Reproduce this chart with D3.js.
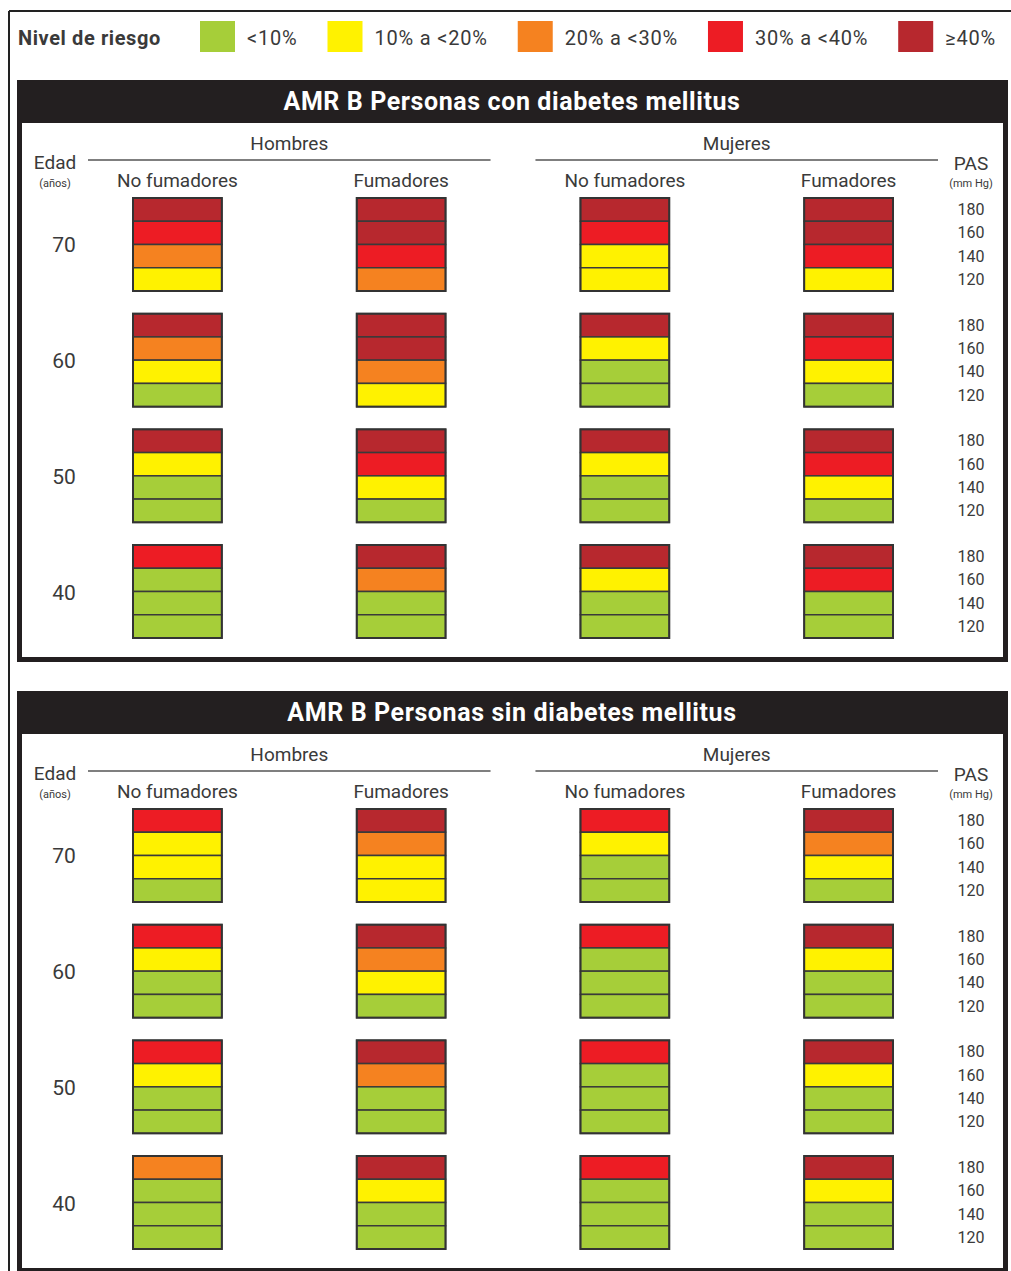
<!DOCTYPE html>
<html>
<head>
<meta charset="utf-8">
<script src="https://cdn.jsdelivr.net/npm/d3@7"></script>
<style>
  body { margin: 0; background: #fff; }
  svg { display: block; }
  text { font-family: Roboto, "Noto Sans", sans-serif; fill: #3a3a3a; }
</style>
</head>
<body>
<svg width="1011" height="1271"></svg>
<script>
/* Tabla de riesgo AMR B: datos */
const levelLabels = ['<10%', '10% a <20%', '20% a <30%', '30% a <40%', '≥40%'];
const ages = [70, 60, 50, 40];
const pasValues = [180, 160, 140, 120];
const sexes = ['Hombres', 'Mujeres'];
const smokers = ['No fumadores', 'Fumadores'];
const panelTitles = ['AMR B Personas con diabetes mellitus', 'AMR B Personas sin diabetes mellitus'];

// nivel de riesgo (0 = <10% ... 4 = >=40%) por edad, columna (H-NF, H-F, M-NF, M-F), PAS 180..120
const conDiabetes = [
  [[4, 3, 2, 1], [4, 4, 3, 2], [4, 3, 1, 1], [4, 4, 3, 1]],
  [[4, 2, 1, 0], [4, 4, 2, 1], [4, 1, 0, 0], [4, 3, 1, 0]],
  [[4, 1, 0, 0], [4, 3, 1, 0], [4, 1, 0, 0], [4, 3, 1, 0]],
  [[3, 0, 0, 0], [4, 2, 0, 0], [4, 1, 0, 0], [4, 3, 0, 0]]
];
const sinDiabetes = [
  [[3, 1, 1, 0], [4, 2, 1, 1], [3, 1, 0, 0], [4, 2, 1, 0]],
  [[3, 1, 0, 0], [4, 2, 1, 0], [3, 0, 0, 0], [4, 1, 0, 0]],
  [[3, 1, 0, 0], [4, 2, 0, 0], [3, 0, 0, 0], [4, 1, 0, 0]],
  [[2, 0, 0, 0], [4, 1, 0, 0], [3, 0, 0, 0], [4, 1, 0, 0]]
];
const panelData = [conDiabetes, sinDiabetes];

const color = d3.scaleOrdinal()
  .domain(d3.range(levelLabels.length))
  .range(['#a6ce39', '#fff200', '#f58220', '#ed1c24', '#b7282e']);

const svg = d3.select('svg');

const columns = [];
sexes.forEach((s) => smokers.forEach((f) => columns.push(`${s}|${f}`)));

const xScale = d3.scaleBand()
  .domain(columns)
  .range([133, 893])
  .paddingInner(0.603);

const ageScale = d3.scaleBand()
  .domain(ages)
  .range([118, 558])
  .paddingInner(0.196);

const pasScale = d3.scaleBand()
  .domain(pasValues)
  .range([0, ageScale.bandwidth()]);

const bw = xScale.bandwidth();
const panelStep = 611;

// marco exterior
svg.append('line')
  .attr('x1', 9).attr('y1', 11).attr('x2', 9).attr('y2', 1271)
  .attr('stroke', '#222').attr('stroke-width', 2);
svg.append('line')
  .attr('x1', 9).attr('y1', 11).attr('x2', 1011).attr('y2', 11)
  .attr('stroke', '#222').attr('stroke-width', 2);

// leyenda
const legend = svg.append('g');
legend.append('text')
  .attr('x', 18)
  .attr('y', 45)
  .attr('font-size', 20)
  .attr('font-weight', 'bold')
  .attr('letter-spacing', 0.6)
  .text('Nivel de riesgo');

let lx = 200;
levelLabels.forEach((lab, i) => {
  legend.append('rect')
    .attr('x', lx).attr('y', 21)
    .attr('width', 35).attr('height', 31)
    .attr('fill', color(i));
  const t = legend.append('text')
    .attr('x', lx + 47)
    .attr('y', 45)
    .attr('font-size', 20)
    .attr('letter-spacing', 0.8)
    .text(lab);
  lx += 47 + t.node().getComputedTextLength() + 30;
});

function drawPanel(i) {
  const grid = panelData[i];
  const g = svg.append('g')
    .attr('transform', `translate(0, ${80 + i * panelStep})`);

  g.append('rect')
    .attr('x', 19.5).attr('y', 2.5)
    .attr('width', 986).attr('height', 577)
    .attr('fill', '#fff')
    .attr('stroke', '#231f20')
    .attr('stroke-width', 5);

  g.append('rect')
    .attr('x', 17).attr('y', 0)
    .attr('width', 991).attr('height', 43)
    .attr('fill', '#231f20');

  g.append('text')
    .attr('x', 512)
    .attr('y', 30)
    .attr('text-anchor', 'middle')
    .attr('font-size', 25)
    .attr('font-weight', 'bold')
    .attr('letter-spacing', 0.6)
    .style('fill', '#fff')
    .text(panelTitles[i]);

  // cabeceras por sexo
  sexes.forEach((s) => {
    const first = xScale(`${s}|${smokers[0]}`);
    const last = xScale(`${s}|${smokers[1]}`) + bw;
    g.append('text')
      .attr('x', (first + last) / 2)
      .attr('y', 70)
      .attr('text-anchor', 'middle')
      .attr('font-size', 19)
      .text(s);
    g.append('line')
      .attr('x1', first - 45).attr('x2', last + 45)
      .attr('y1', 80).attr('y2', 80)
      .attr('stroke', '#555')
      .attr('stroke-width', 1.5);
  });

  columns.forEach((c) => {
    g.append('text')
      .attr('x', xScale(c) + bw / 2)
      .attr('y', 107)
      .attr('text-anchor', 'middle')
      .attr('font-size', 19)
      .text(c.split('|')[1]);
  });

  g.append('text')
    .attr('x', 55).attr('y', 89)
    .attr('text-anchor', 'middle')
    .attr('font-size', 19)
    .text('Edad');
  g.append('text')
    .attr('x', 55).attr('y', 107)
    .attr('text-anchor', 'middle')
    .attr('font-size', 11)
    .text('(años)');
  g.append('text')
    .attr('x', 971).attr('y', 90)
    .attr('text-anchor', 'middle')
    .attr('font-size', 19)
    .text('PAS');
  g.append('text')
    .attr('x', 971).attr('y', 107)
    .attr('text-anchor', 'middle')
    .attr('font-size', 11)
    .text('(mm Hg)');

  ages.forEach((age, ai) => {
    const y0 = ageScale(age);

    g.append('text')
      .attr('x', 64)
      .attr('y', y0 + ageScale.bandwidth() / 2 + 8)
      .attr('text-anchor', 'middle')
      .attr('font-size', 21)
      .text(age);

    columns.forEach((c, ci) => {
      const block = g.append('g');
      block.selectAll('rect')
        .data(grid[ai][ci])
        .enter()
        .append('rect')
        .attr('x', xScale(c))
        .attr('y', (d, k) => y0 + pasScale(pasValues[k]))
        .attr('width', bw)
        .attr('height', pasScale.bandwidth())
        .attr('fill', (d) => color(d))
        .attr('stroke', '#3a3a3a')
        .attr('stroke-width', 1.5);
      block.append('rect')
        .attr('x', xScale(c))
        .attr('y', y0)
        .attr('width', bw)
        .attr('height', ageScale.bandwidth())
        .attr('fill', 'none')
        .attr('stroke', '#333')
        .attr('stroke-width', 2);
    });

    pasValues.forEach((p) => {
      g.append('text')
        .attr('x', 971)
        .attr('y', y0 + pasScale(p) + pasScale.bandwidth() / 2 + 5.5)
        .attr('text-anchor', 'middle')
        .attr('font-size', 16)
        .text(p);
    });
  });
}

panelTitles.forEach((t, i) => drawPanel(i));
</script>
</body>
</html>
